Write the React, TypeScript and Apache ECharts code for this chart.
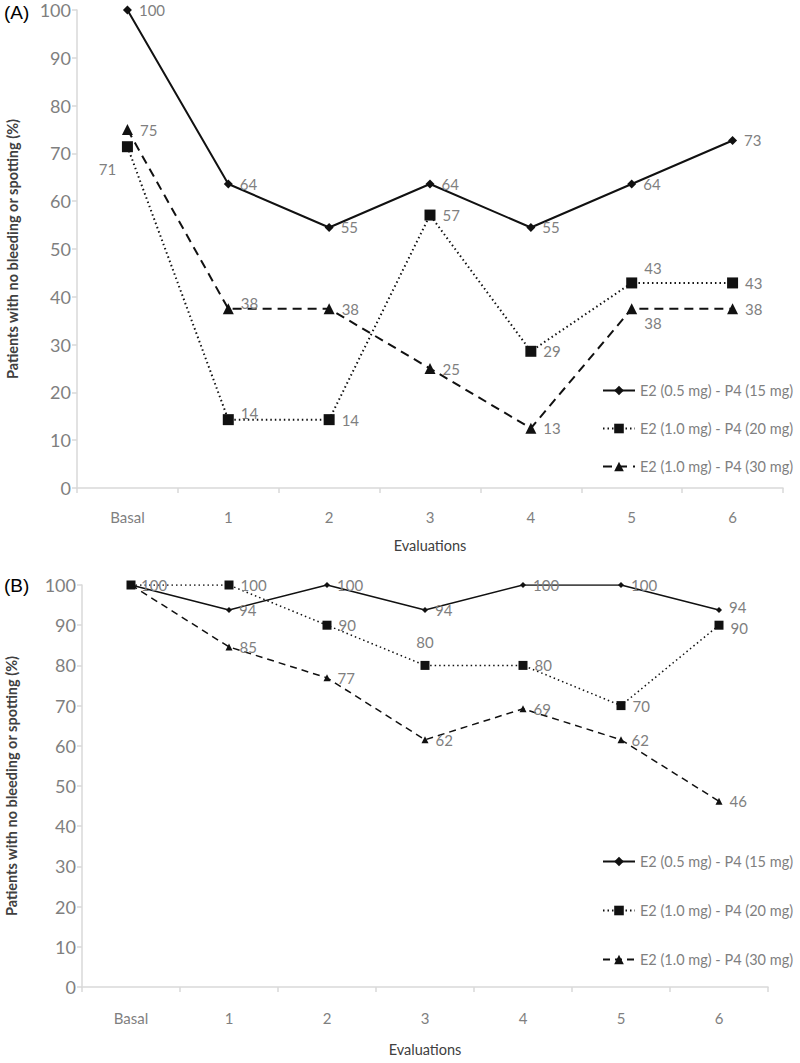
import React, { useEffect, useRef } from "react";
import * as echarts from "echarts";

const categories = ["Basal", "1", "2", "3", "4", "5", "6"];
const seriesNames = [
  "E2 (0.5 mg) - P4 (15 mg)",
  "E2 (1.0 mg) - P4 (20 mg)",
  "E2 (1.0 mg) - P4 (30 mg)",
];
const yTicks = [0, 10, 20, 30, 40, 50, 60, 70, 80, 90, 100];

// Panel A values (%)
const a15 = [100, 63.6, 54.5, 63.6, 54.5, 63.6, 72.7];
const a20 = [71.4, 14.3, 14.3, 57.1, 28.6, 42.9, 42.9];
const a30 = [75, 37.5, 37.5, 25, 12.5, 37.5, 37.5];

// Panel B values (%)
const b15 = [100, 93.8, 100, 93.8, 100, 100, 93.8];
const b20 = [100, 100, 90, 80, 80, 70, 90];
const b30 = [100, 84.6, 76.9, 61.5, 69.2, 61.5, 46.2];

const FONT = "Lato, 'Open Sans', sans-serif";
const GRAY = "#7f7f7f";
const AXIS = "#d9d9d9";

type LabelOverride = { [i: number]: any };

function makeData(values: number[], overrides: LabelOverride) {
  return values.map((v, i) =>
    overrides[i] ? { value: v, label: overrides[i] } : v
  );
}

function buildOption(p: {
  tag: string;
  tagTop: number;
  grid: any;
  data: number[][];
  overrides: LabelOverride[];
  lineWidth: number;
  symbolSizes: number[];
  dash: number[];
  legendTop: number;
  legendGap: number;
  xLabelMargin: number;
  xNameGap: number;
  yNameGap: number;
}) {
  const lineTypes: any[] = ["solid", [1.5, 3], p.dash];
  const symbols = ["diamond", "rect", "triangle"];
  return {
    animation: false,
    title: {
      text: p.tag,
      left: 4,
      top: p.tagTop,
      padding: 0,
      textStyle: {
        fontFamily: "'Liberation Sans', Arial, sans-serif",
        fontSize: 19,
        fontWeight: "normal",
        color: "#000",
      },
    },
    grid: { ...p.grid, containLabel: false, outerBoundsMode: "none" },
    legend: {
      orient: "vertical",
      left: 602,
      top: p.legendTop,
      padding: 0,
      itemWidth: 32,
      itemHeight: 12,
      itemGap: p.legendGap,
      data: seriesNames,
      textStyle: { fontFamily: FONT, fontSize: 14.5, color: GRAY },
    },
    xAxis: {
      type: "category",
      data: categories,
      boundaryGap: true,
      name: "Evaluations",
      nameLocation: "middle",
      nameGap: p.xNameGap,
      nameTextStyle: { fontFamily: FONT, fontSize: 14.5, color: "#404040" },
      axisLine: { show: true, lineStyle: { color: AXIS, width: 1.5 } },
      axisTick: { show: true, length: 5, lineStyle: { color: AXIS, width: 1.5 } },
      axisLabel: {
        fontFamily: FONT,
        fontSize: 15,
        color: GRAY,
        margin: p.xLabelMargin,
      },
      splitLine: { show: false },
    },
    yAxis: {
      type: "value",
      min: yTicks[0],
      max: yTicks[yTicks.length - 1],
      interval: yTicks[1] - yTicks[0],
      name: "Patients with no bleeding or spotting (%)",
      nameLocation: "middle",
      nameRotate: 90,
      nameGap: p.yNameGap,
      nameTextStyle: {
        fontFamily: FONT,
        fontSize: 14.5,
        fontWeight: "bold",
        color: "#404040",
      },
      axisLine: { show: true, lineStyle: { color: AXIS, width: 1.5 } },
      axisTick: { show: true, length: 5, lineStyle: { color: AXIS, width: 1.5 } },
      axisLabel: { fontFamily: FONT, fontSize: 18, color: GRAY, margin: 6 },
      splitLine: { show: false },
    },
    series: p.data.map((vals, k) => ({
      type: "line",
      name: seriesNames[k],
      data: makeData(vals, p.overrides[k]),
      symbol: symbols[k],
      symbolSize: p.symbolSizes[k],
      showAllSymbol: true,
      itemStyle: { color: "#111" },
      lineStyle: { color: "#111", width: p.lineWidth, type: lineTypes[k] },
      label: {
        show: true,
        position: "right",
        distance: 7,
        fontFamily: FONT,
        fontSize: 15,
        color: GRAY,
        formatter: (d: any) => String(Math.round(d.value)),
      },
      emphasis: { disabled: true },
      z: 3 - k,
    })),
  };
}

function Panel(props: { top: number; height: number; option: any }) {
  const ref = useRef<HTMLDivElement>(null);
  useEffect(() => {
    if (!ref.current) return;
    const chart = echarts.init(ref.current, undefined, { renderer: "svg" });
    chart.setOption(props.option);
    return () => chart.dispose();
  }, []);
  return (
    <div
      ref={ref}
      style={{
        position: "absolute",
        left: 0,
        top: props.top,
        width: 800,
        height: props.height,
      }}
    />
  );
}

export default function App() {
  const optA = buildOption({
    tag: "(A)",
    tagTop: 3,
    grid: { left: 77, right: 17, top: 10, bottom: 72 },
    data: [a15, a20, a30],
    overrides: [
      {},
      {
        0: { position: "bottom", offset: [-20, 2] },
        1: { position: "right", offset: [0, -7] },
        5: { position: "right", offset: [0, -15] },
      },
      {
        1: { position: "right", offset: [0, -6] },
        5: { position: "right", offset: [0, 14] },
      },
    ],
    lineWidth: 2,
    symbolSizes: [9, 11, 11],
    dash: [9, 6],
    legendTop: 383,
    legendGap: 23,
    xLabelMargin: 21,
    xNameGap: 50,
    yNameGap: 57,
  });
  const optB = buildOption({
    tag: "(B)",
    tagTop: 16,
    grid: { left: 82, right: 32, top: 25, bottom: 76 },
    data: [b15, b20, b30],
    overrides: [
      {
        6: { position: "right", offset: [0, -3] },
      },
      {
        0: { show: false },
        3: { position: "top", offset: [0, -4] },
        6: { position: "right", offset: [0, 3] },
      },
      {
        0: { show: false },
      },
    ],
    lineWidth: 1.5,
    symbolSizes: [6, 9, 7],
    dash: [7, 5],
    legendTop: 294,
    legendGap: 34,
    xLabelMargin: 23,
    xNameGap: 55,
    yNameGap: 63,
  });
  return (
    <div
      style={{ position: "absolute", left: 0, top: 0, width: 800, height: 1063 }}
    >
      <Panel top={0} height={560} option={optA} />
      <Panel top={560} height={503} option={optB} />
    </div>
  );
}
